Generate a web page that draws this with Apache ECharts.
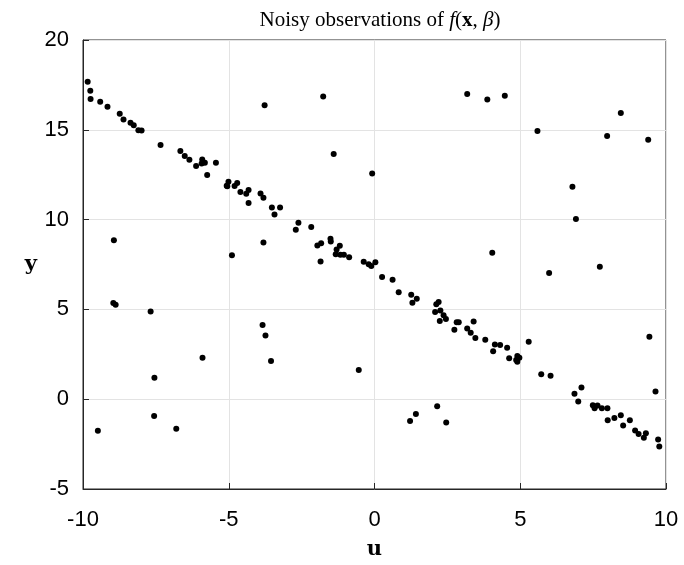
<!DOCTYPE html>
<html>
<head>
<meta charset="utf-8">
<script src="https://cdn.jsdelivr.net/npm/echarts@6/dist/echarts.min.js"></script>
<style>
  html, body { margin: 0; padding: 0; background: #fff; }
  #chart { width: 684px; height: 565px; }
</style>
</head>
<body>
<div id="chart"></div>
<script>
// observed points (u, y)
var uVals = [
  -9.84, -9.75, -9.74, -9.41, -9.16, -8.74, -8.61, -8.37, -8.26, -8.10, -7.99,
  -7.34, -6.66, -6.51, -6.35, -6.12, -5.91, -5.93, -5.82, -5.44, -5.74, -5.05,
  -5.01, -5.07, -4.80, -4.71, -4.60, -4.40, -4.32, -3.91, -3.81, -4.32, -3.52,
  -3.24, -3.43, -2.61, -2.70, -2.17, -1.96, -1.83, -1.51, -1.50, -1.19, -1.30,
  -1.33, -1.17, -1.05, -0.87, -0.37, -0.20, -0.11, 0.03, 0.26, 0.62, 0.83,
  1.26, 1.45, 1.30, 2.20, 2.12, 2.26, 2.08, 2.37, 2.45, 2.24, 2.82, 2.89,
  2.74, 3.40, 3.18, 3.30, 3.46, 3.80, 4.13, 4.31, 4.55, 4.07, 4.62, 4.90,
  4.86, 4.97, 4.90, 5.29, 6.86, 7.10, 6.99, 7.49, 7.55, 7.65, 7.80, 7.99,
  8.00, 8.23, 8.45, 8.53, 8.76, 8.94, 9.06, 9.24, 9.31, 9.73, 9.77,
  // outliers
  -8.94, -8.96, -8.88, -7.68, -5.90, -7.55, -7.56, -9.49, -6.80,
  -3.77, -1.76, -1.40, -0.08, -3.81, -4.89, -1.85, -3.84, -3.74, -3.55, -0.54,
  3.18, 3.87, 4.47, 4.04, 2.15, 1.42, 1.22, 2.46, 5.72, 6.04, 9.43, 9.64,
  5.59, 8.45, 7.98, 9.39, 6.79, 6.91, 5.99, 7.73
];
var yVals = [
  17.68, 17.18, 16.71, 16.56, 16.29, 15.89, 15.57, 15.39, 15.26, 14.98, 14.96,
  14.15, 13.82, 13.54, 13.33, 12.98, 13.35, 13.13, 13.17, 13.17, 12.48, 11.85,
  12.11, 11.89, 11.87, 12.04, 11.54, 11.44, 11.65, 11.46, 11.22, 10.93, 10.68,
  10.68, 10.28, 9.83, 9.44, 9.59, 8.56, 8.68, 8.94, 8.78, 8.54, 8.33,
  8.07, 8.04, 8.04, 7.91, 7.65, 7.52, 7.41, 7.63, 6.80, 6.65, 5.96,
  5.81, 5.59, 5.37, 5.41, 5.28, 4.94, 4.85, 4.67, 4.46, 4.35, 4.28, 4.28,
  3.87, 4.33, 3.93, 3.70, 3.41, 3.31, 3.04, 3.02, 2.87, 2.67, 2.28, 2.41,
  2.18, 2.31, 2.09, 3.20, 0.30, 0.65, -0.13, -0.33, -0.50, -0.35, -0.50, -0.50,
  -1.17, -1.04, -0.89, -1.46, -1.17, -1.74, -1.94, -2.15, -1.89, -2.24, -2.63,
  // outliers
  8.85, 5.35, 5.26, 4.89, 2.31, 1.20, -0.94, -1.76, -1.65,
  16.37, 16.85, 13.65, 12.56, 8.72, 8.02, 7.67, 4.13, 3.54, 2.13, 1.63,
  17.00, 16.69, 16.89, 8.15, -0.39, -0.83, -1.22, -1.30, 1.39, 1.30, 3.48, 0.43,
  14.94, 15.93, 14.65, 14.44, 11.83, 10.04, 7.02, 7.37
];
var xTicks = [-10, -5, 0, 5, 10];
var yTicks = [-5, 0, 5, 10, 15, 20];

var points = uVals.map(function (u, i) { return [u, yVals[i]]; });

var chart = echarts.init(document.getElementById('chart'));
var axisColor = '#262626';
var tickFont = { fontFamily: 'Liberation Sans', fontSize: 22, color: '#000' };

chart.setOption({
  animation: false,
  backgroundColor: '#fff',
  title: {
    text: '{n|Noisy observations of }{i|f}{n|(}{b|x}{n|, }{i|β}{n|)}',
    left: 375,
    textAlign: 'center',
    top: 5,
    textStyle: {
      fontWeight: 'normal',
      rich: {
        n: { fontFamily: 'Liberation Serif', fontWeight: 'normal', fontSize: 21, color: '#000' },
        i: { fontFamily: 'Liberation Serif', fontWeight: 'normal', fontStyle: 'italic', fontSize: 21, color: '#000' },
        b: { fontFamily: 'Liberation Serif', fontWeight: 'bold', fontSize: 21, color: '#000' }
      }
    }
  },
  grid: {
    left: 83, right: 18, top: 40, bottom: 75,
    show: true, borderColor: axisColor, borderWidth: 1
  },
  xAxis: {
    type: 'value', min: -10, max: 10, interval: 5,
    name: 'u', nameLocation: 'middle', nameGap: 50,
    nameTextStyle: { fontFamily: 'DejaVu Serif', fontWeight: 'bold', fontSize: 21, color: '#000' },
    axisLine: { show: true, onZero: false, lineStyle: { color: axisColor } },
    axisTick: { show: true, inside: true, length: 6, lineStyle: { color: axisColor } },
    axisLabel: Object.assign({ margin: 20, formatter: function (v) { return xTicks.indexOf(v) >= 0 ? String(v) : ''; } }, tickFont),
    splitLine: { show: true, lineStyle: { color: '#e3e3e3' } }
  },
  yAxis: {
    type: 'value', min: -5, max: 20, interval: 5,
    name: 'y', nameLocation: 'middle', nameGap: 46, nameRotate: 0,
    nameTextStyle: { fontFamily: 'DejaVu Serif', fontWeight: 'bold', fontSize: 21, color: '#000' },
    axisLine: { show: true, onZero: false, lineStyle: { color: axisColor } },
    axisTick: { show: true, inside: true, length: 6, lineStyle: { color: axisColor } },
    axisLabel: Object.assign({ margin: 14, formatter: function (v) { return yTicks.indexOf(v) >= 0 ? String(v) : ''; } }, tickFont),
    splitLine: { show: true, lineStyle: { color: '#e3e3e3' } }
  },
  series: [{
    type: 'scatter',
    data: points,
    symbol: 'circle',
    symbolSize: 6,
    itemStyle: { color: '#000', opacity: 1 }
  }]
});
</script>
</body>
</html>
